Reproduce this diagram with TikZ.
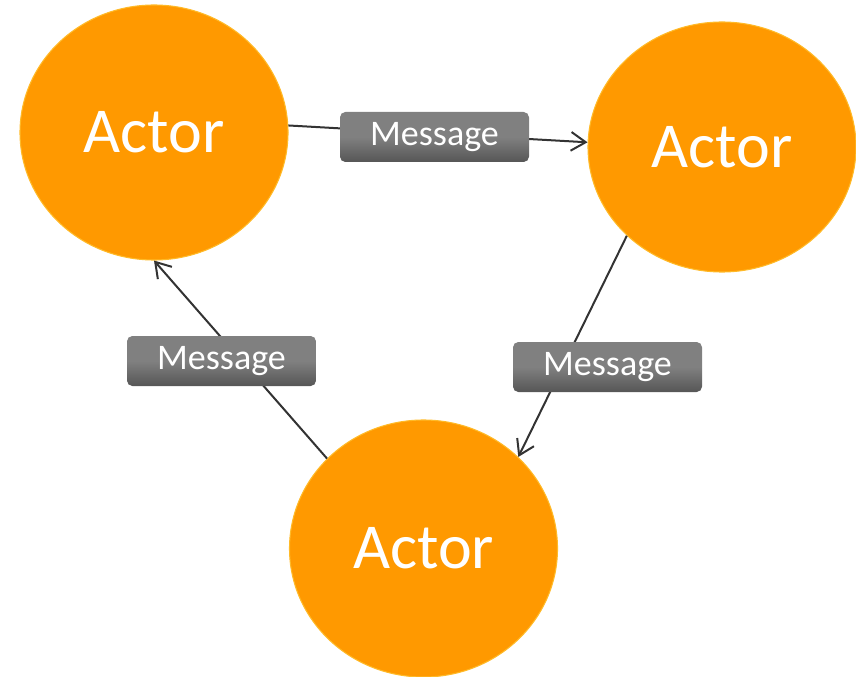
\documentclass[tikz,border=0pt]{standalone}
\usepackage{fontspec}
\setmainfont{Carlito}
\usetikzlibrary{arrows.meta,shapes.geometric}
\definecolor{actorfill}{RGB}{255,153,0}
\definecolor{actorrim}{RGB}{255,186,40}
\definecolor{msgfill}{RGB}{128,128,128}
\definecolor{msgdark}{RGB}{86,86,86}
\definecolor{linkdark}{RGB}{51,51,51}
\tikzset{
  actor/.style={ellipse, fill=actorfill, draw=actorrim, line width=0.8pt, inner sep=0pt,
    minimum width=201pt, minimum height=#1, text=white, font=\fontsize{48}{52}\selectfont},
  actor/.default=191pt,
  message/.style={rectangle, rounded corners=4pt, inner sep=0pt, minimum width=141.75pt,
    minimum height=37.5pt, top color=msgfill, bottom color=msgdark, middle color=msgfill,
    text=white, font=\fontsize{27}{30}\selectfont},
  link/.style={draw=linkdark, line width=1.5pt, -{Straight Barb[length=11pt,width=14pt]}}
}
\begin{document}
\begin{tikzpicture}[x=0.75pt, y=-0.75pt]
\useasboundingbox (0,0) rectangle (856,677);
% actors
\node[actor=191.25pt] (actorA) at (154,132.5) {Actor};
\node[actor=187.5pt] (actorB) at (722,147) {Actor};
\node[actor=192.75pt] (actorC) at (423.5,548.5) {Actor};
% links
\draw[link] (actorA.3) -- (actorB.178);
\draw[link] (actorB.223) -- (actorC.44);
\draw[link] (actorC.137) -- (actorA.270);
% messages
\node[message] (msgAB) at (434.5,137) {Message};
\node[message] (msgBC) at (607.5,367) {Message};
\node[message] (msgCA) at (221.5,361) {Message};
\end{tikzpicture}
\end{document}
